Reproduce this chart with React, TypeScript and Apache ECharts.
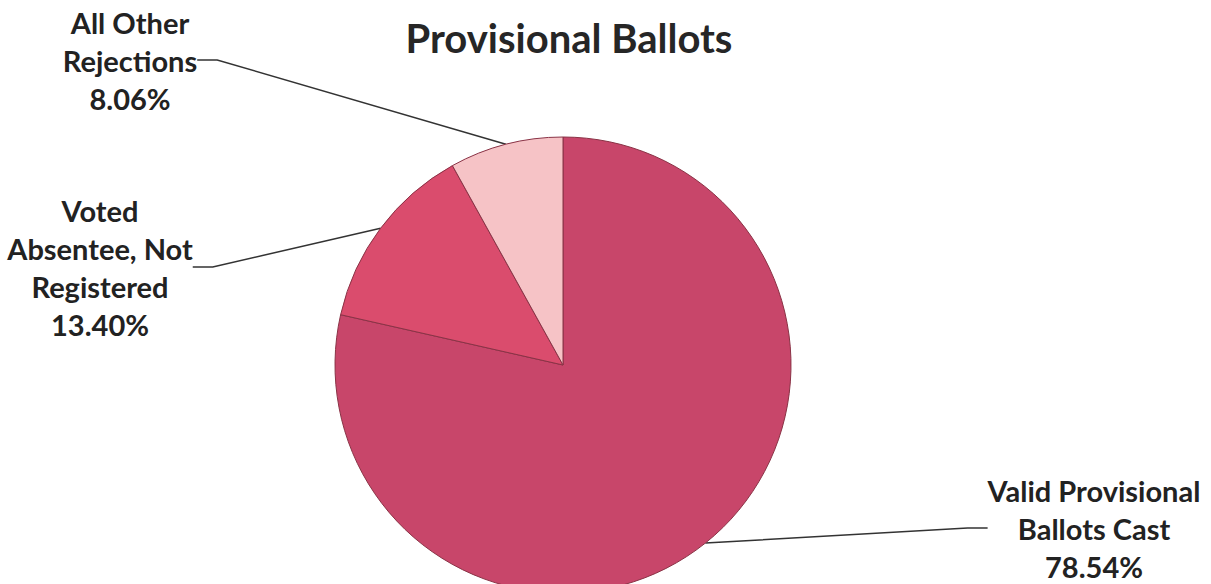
import React, { useEffect, useRef } from "react";
import * as echarts from "echarts";

const title = "Provisional Ballots";
const categories = [
  "Valid Provisional\nBallots Cast",
  "Voted\nAbsentee, Not\nRegistered",
  "All Other\nRejections",
];
const values = [78.54, 13.4, 8.06];
const colors = ["#c8466a", "#da4c6d", "#f6c3c6"];
const labelPos = [
  { x: 1094, y: 471 },
  { x: 100, y: 191 },
  { x: 130, y: 3 },
];

export default function App() {
  const ref = useRef<HTMLDivElement>(null);
  useEffect(() => {
    document.body.style.margin = "0";
    const chart = echarts.init(ref.current!, null, { renderer: "svg" });
    chart.setOption({
      animation: false,
      backgroundColor: "#ffffff",
      title: {
        text: title,
        left: 564,
        top: 13,
        textAlign: "center",
        textStyle: {
          fontFamily: "Lato",
          fontWeight: "bold",
          fontSize: 40,
          color: "#262626",
        },
      },
      series: [
        {
          type: "pie",
          center: [563, 365],
          radius: 228,
          startAngle: 90,
          clockwise: true,
          data: categories.map((c, i) => ({
            name: c,
            value: values[i],
            itemStyle: { color: colors[i] },
          })),
          itemStyle: { borderColor: "#8a3346", borderWidth: 1 },
          label: {
            show: true,
            formatter: (p: any) => `${p.name}\n${p.value.toFixed(2)}%`,
            fontFamily: "Lato",
            fontWeight: "bold",
            fontSize: 29,
            lineHeight: 38,
            color: "#222222",
            align: "center",
          },
          labelLine: {
            show: true,
            length: 20,
            length2: 20,
            lineStyle: { color: "#333333", width: 1.5 },
          },
          labelLayout: (params: any) => {
            const p = labelPos[params.dataIndex];
            return { x: p.x, y: p.y, align: "center", verticalAlign: "top" };
          },
        },
      ],
    });
    return () => chart.dispose();
  }, []);
  return (
    <div
      ref={ref}
      style={{ position: "fixed", left: 0, top: 0, width: 1211, height: 584 }}
    />
  );
}
